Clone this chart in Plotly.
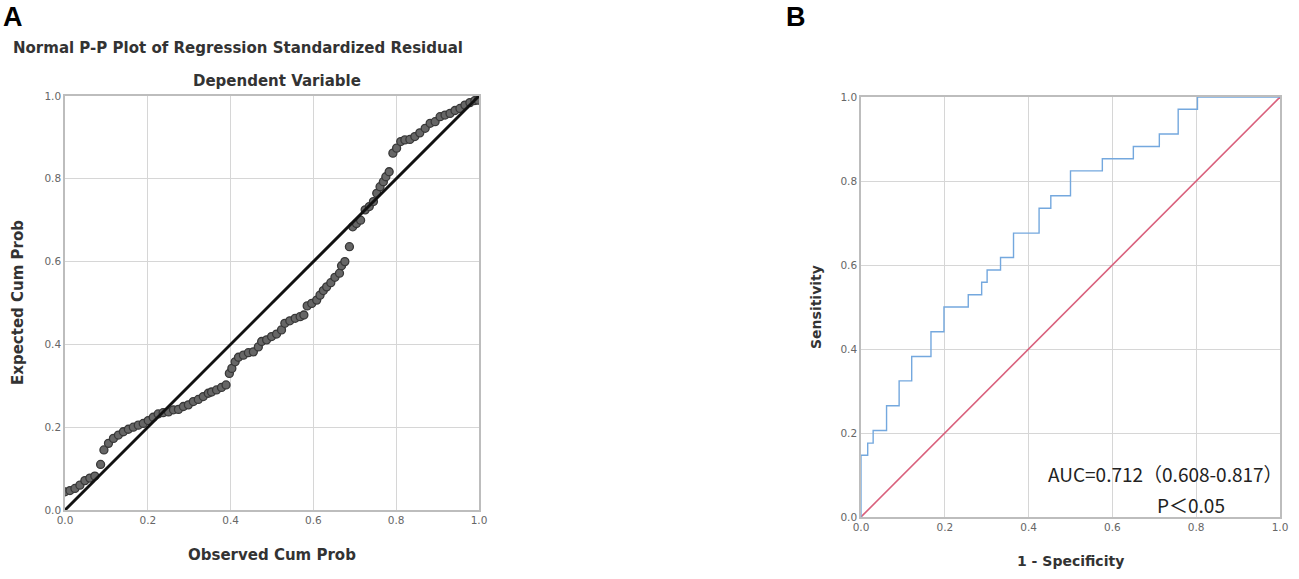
import plotly.graph_objects as go

# Painel A: Normal P-P plot (Observed vs Expected Cum Prob)
pp_observed = [0.0, 0.012, 0.024, 0.036, 0.048, 0.060, 0.072, 0.086, 0.094, 0.105,
               0.117, 0.129, 0.141, 0.153, 0.165, 0.177, 0.189, 0.201, 0.213, 0.225,
               0.237, 0.250, 0.262, 0.274, 0.286, 0.298, 0.310, 0.322, 0.334, 0.346,
               0.354, 0.366, 0.378, 0.389, 0.397, 0.403, 0.411, 0.419, 0.431, 0.443,
               0.455, 0.467, 0.475, 0.487, 0.499, 0.511, 0.523, 0.531, 0.543, 0.556,
               0.568, 0.577, 0.585, 0.596, 0.608, 0.616, 0.624, 0.632, 0.642, 0.652,
               0.663, 0.668, 0.676, 0.687, 0.695, 0.704, 0.714, 0.725, 0.735, 0.745,
               0.753, 0.761, 0.769, 0.775, 0.783, 0.792, 0.801, 0.811, 0.821, 0.833,
               0.845, 0.857, 0.870, 0.882, 0.894, 0.906, 0.918, 0.930, 0.942, 0.954,
               0.966, 0.978, 0.990, 0.998]
pp_expected = [0.044, 0.047, 0.052, 0.060, 0.071, 0.077, 0.082, 0.110, 0.145, 0.161,
               0.173, 0.181, 0.189, 0.195, 0.200, 0.205, 0.209, 0.216, 0.224, 0.232,
               0.235, 0.237, 0.242, 0.243, 0.250, 0.254, 0.262, 0.267, 0.274, 0.282,
               0.285, 0.290, 0.296, 0.302, 0.330, 0.342, 0.358, 0.369, 0.374, 0.380,
               0.382, 0.394, 0.407, 0.411, 0.419, 0.425, 0.435, 0.451, 0.457, 0.463,
               0.467, 0.471, 0.493, 0.499, 0.507, 0.519, 0.530, 0.539, 0.549, 0.562,
               0.572, 0.590, 0.600, 0.636, 0.684, 0.692, 0.700, 0.725, 0.733, 0.745,
               0.765, 0.781, 0.793, 0.805, 0.817, 0.862, 0.874, 0.890, 0.894, 0.895,
               0.902, 0.911, 0.922, 0.934, 0.938, 0.950, 0.954, 0.958, 0.965, 0.970,
               0.978, 0.984, 0.989, 0.990]
ref_line = [0, 1]

# Painel B: curva ROC (degraus)
roc_fpr = [0, 0, 0.016, 0.029, 0.061, 0.091, 0.121, 0.167, 0.198, 0.256, 0.288, 0.301,
           0.333, 0.364, 0.425, 0.453, 0.500, 0.576, 0.650, 0.712, 0.757, 0.803, 1.0]
roc_tpr = [0, 0.147, 0.176, 0.206, 0.265, 0.324, 0.382, 0.441, 0.500, 0.529, 0.559, 0.588,
           0.618, 0.676, 0.735, 0.765, 0.824, 0.853, 0.882, 0.912, 0.971, 1.0, 1.0]

tick_vals = [0, 0.2, 0.4, 0.6, 0.8, 1.0]
tick_text = ['0.0', '0.2', '0.4', '0.6', '0.8', '1.0']

W, H = 1299, 579
FONT = 'DejaVu Sans, Liberation Sans, sans-serif'
LABEL_FONT = 'Liberation Sans, Arial, sans-serif'

fig = go.Figure()

fig.add_trace(go.Scatter(
    x=pp_observed, y=pp_expected, mode='markers',
    marker=dict(size=8, color='#666666', line=dict(color='#383838', width=1.3)),
    xaxis='x', yaxis='y', showlegend=False
))
fig.add_trace(go.Scatter(
    x=ref_line, y=ref_line, mode='lines',
    line=dict(color='#111111', width=3),
    xaxis='x', yaxis='y', showlegend=False
))

fig.add_trace(go.Scatter(
    x=ref_line, y=ref_line, mode='lines',
    line=dict(color='#d9607c', width=1.6),
    xaxis='x2', yaxis='y2', showlegend=False
))
fig.add_trace(go.Scatter(
    x=roc_fpr, y=roc_tpr, mode='lines', line_shape='hv',
    line=dict(color='#74a8de', width=1.4),
    xaxis='x2', yaxis='y2', showlegend=False
))

axis_style = dict(
    range=[0, 1], tickvals=tick_vals, ticktext=tick_text,
    showgrid=True, gridcolor='#d6d6d6', gridwidth=1,
    showline=True, linecolor='#bdbdbd', linewidth=1.5, mirror=True,
    zeroline=False, ticks='', fixedrange=True, automargin=False,
    tickfont=dict(family=FONT, size=10.5, color='#666666'),
)


# pixel of the picture -> paper coords
def px_x(p):
    return p / W


def px_y(p):
    return 1 - p / H


fig.update_layout(
    width=W, height=H,
    margin=dict(l=0, r=0, t=0, b=0, pad=0, autoexpand=False),
    paper_bgcolor='white', plot_bgcolor='white',
    xaxis=dict(domain=[px_x(65), px_x(479)], anchor='y', **axis_style),
    yaxis=dict(domain=[px_y(510), px_y(96)], anchor='x', **axis_style),
    xaxis2=dict(domain=[px_x(861), px_x(1280)], anchor='y2', **axis_style),
    yaxis2=dict(domain=[px_y(517), px_y(97)], anchor='x2', **axis_style),
    font=dict(family=FONT),
)

# panel letters, anchored at the top edge
for txt, x in [('A', 13), ('B', 796)]:
    fig.add_annotation(text='<b>%s</b>' % txt, x=px_x(x), y=1, xref='paper', yref='paper',
                       showarrow=False, xanchor='center', yanchor='top',
                       font=dict(family=LABEL_FONT, size=27, color='#000000'))

notes = [
    ('Normal P-P Plot of Regression Standardized Residual', 238, 48, 15),
    ('Dependent Variable', 277, 81, 15),
    ('Observed Cum Prob', 272, 555, 15),
    ('1 - Specificity', 1070, 561, 14),
]
for txt, x, y, size in notes:
    fig.add_annotation(text='<b>%s</b>' % txt, x=px_x(x), y=px_y(y), xref='paper', yref='paper',
                       showarrow=False, xanchor='center', yanchor='middle',
                       font=dict(family=FONT, size=size, color='#333333'))

fig.add_annotation(text='<b>Expected Cum Prob</b>', x=px_x(18), y=px_y(303), xref='paper', yref='paper',
                   showarrow=False, textangle=-90, xanchor='center', yanchor='middle',
                   font=dict(family=FONT, size=15, color='#333333'))
fig.add_annotation(text='<b>Sensitivity</b>', x=px_x(816), y=px_y(307), xref='paper', yref='paper',
                   showarrow=False, textangle=-90, xanchor='center', yanchor='middle',
                   font=dict(family=FONT, size=14, color='#333333'))

fig.add_annotation(text='AUC=0.712（0.608-0.817）', x=px_x(1165), y=px_y(489), xref='paper', yref='paper',
                   showarrow=False, xanchor='center', yanchor='bottom',
                   font=dict(family='Noto Sans CJK SC', size=19, color='#222222'))
fig.add_annotation(text='P＜0.05', x=px_x(1191), y=px_y(489), xref='paper', yref='paper',
                   showarrow=False, xanchor='center', yanchor='top',
                   font=dict(family='Noto Sans CJK SC', size=19, color='#222222'))

# default page has an 8px body margin; drop it so the figure fills the window
fig.write_html('out.html', config={'displayModeBar': False},
               post_script="document.body.style.margin = '0';")
